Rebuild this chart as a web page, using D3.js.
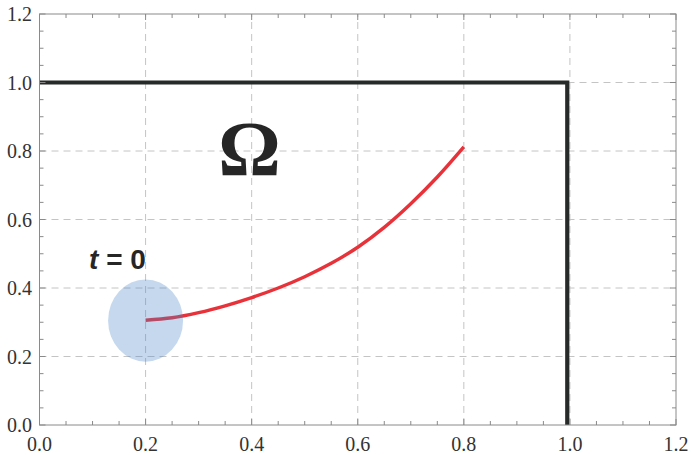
<!DOCTYPE html>
<html><head><meta charset="utf-8">
<script src="https://cdn.jsdelivr.net/npm/d3@7"></script>
<style>html,body{margin:0;padding:0;background:#fff;}</style>
</head><body>
<svg id="chart" width="691" height="455"></svg>
<script>
// ---- data ----
const xTicks = [0.0, 0.2, 0.4, 0.6, 0.8, 1.0, 1.2];
const yTicks = [0.0, 0.2, 0.4, 0.6, 0.8, 1.0, 1.2];
const xTickLabels = ["0.0", "0.2", "0.4", "0.6", "0.8", "1.0", "1.2"];
const yTickLabels = ["0.0", "0.2", "0.4", "0.6", "0.8", "1.0", "1.2"];
const curveX = [0.2, 0.25, 0.3, 0.35, 0.4, 0.45, 0.5, 0.55, 0.6, 0.65, 0.7, 0.75, 0.8];
const curveY = [0.306, 0.313, 0.328, 0.348, 0.372, 0.400, 0.433, 0.472, 0.519, 0.577, 0.646, 0.724, 0.812];
const boundaryX = [0.0, 0.995, 0.995];
const boundaryY = [1.0, 1.0, 0.0];
const blobCenter = [0.2, 0.305];
const blobRadius = [0.0707, 0.12];
const labelOmega = {text: "Ω", x: 0.396, y: 0.73};
const labelT = {x: 0.147, y: 0.456};

// ---- layout ----
const svg = d3.select("#chart");
const L = 39.5, R = 676, T = 14, B = 425;
const x = d3.scaleLinear().domain([0, 1.2]).range([L, R]);
const y = d3.scaleLinear().domain([0, 1.2]).range([B, T]);

// gridlines
const g = svg.append("g");
const gridX = xTicks.filter(v => v > 0 && v < 1.2);
const gridY = yTicks.filter(v => v > 0 && v < 1.2);
g.selectAll(".gx").data(gridX).join("line")
  .attr("x1", d => x(d)).attr("x2", d => x(d)).attr("y1", B).attr("y2", T)
  .attr("stroke", "#c4c4c4").attr("stroke-width", 1).attr("stroke-dasharray", "7,5");
g.selectAll(".gy").data(gridY).join("line")
  .attr("y1", d => y(d)).attr("y2", d => y(d)).attr("x1", L).attr("x2", R)
  .attr("stroke", "#c4c4c4").attr("stroke-width", 1).attr("stroke-dasharray", "7,5");

// curve
const line = d3.line().x(d => x(d[0])).y(d => y(d[1])).curve(d3.curveCatmullRom);
svg.append("path").datum(curveX.map((v, i) => [v, curveY[i]]))
  .attr("d", line).attr("fill", "none").attr("stroke", "#e8323a").attr("stroke-width", 3.4);

// blob
svg.append("ellipse")
  .attr("cx", x(blobCenter[0])).attr("cy", y(blobCenter[1]))
  .attr("rx", x(blobRadius[0]) - x(0)).attr("ry", y(0) - y(blobRadius[1]))
  .attr("fill", "#4a86c8").attr("fill-opacity", 0.32);

// boundary
const bline = d3.line().x(d => x(d[0])).y(d => y(d[1]));
svg.append("path").datum(boundaryX.map((v, i) => [v, boundaryY[i]]))
  .attr("d", bline).attr("fill", "none").attr("stroke", "#262a28").attr("stroke-width", 4.2)
  .attr("stroke-linejoin", "miter");

// frame
svg.append("rect").attr("x", L).attr("y", T).attr("width", R - L).attr("height", B - T)
  .attr("fill", "none").attr("stroke", "#8a8a8a").attr("stroke-width", 1);

// ticks on all sides
const minor = d3.range(0, 1.2001, 0.05).map(v => +v.toFixed(2));
const tg = svg.append("g").attr("stroke", "#8a8a8a").attr("stroke-width", 1);
minor.forEach(v => {
  const major = Math.abs(v * 5 - Math.round(v * 5)) < 1e-6;
  const len = major ? 6 : 4;
  tg.append("line").attr("x1", x(v)).attr("x2", x(v)).attr("y1", B).attr("y2", B - len);
  tg.append("line").attr("x1", x(v)).attr("x2", x(v)).attr("y1", T).attr("y2", T + len);
  tg.append("line").attr("y1", y(v)).attr("y2", y(v)).attr("x1", L).attr("x2", L + len);
  tg.append("line").attr("y1", y(v)).attr("y2", y(v)).attr("x1", R).attr("x2", R - len);
});

// tick labels
const font = "Liberation Serif";
svg.selectAll(".xl").data(xTicks).join("text")
  .attr("x", d => x(d)).attr("y", 451).attr("text-anchor", "middle")
  .style("font-family", font).style("font-size", "20px").attr("fill", "#333")
  .text((d, i) => xTickLabels[i]);
svg.selectAll(".yl").data(yTicks).join("text")
  .attr("x", 32).attr("y", d => y(d) + 7).attr("text-anchor", "end")
  .style("font-family", font).style("font-size", "20px").attr("fill", "#333")
  .text((d, i) => yTickLabels[i]);

// annotations
svg.append("text").attr("x", x(labelOmega.x)).attr("y", y(labelOmega.y))
  .attr("text-anchor", "middle").style("font-family", font).style("font-weight", "bold")
  .style("font-size", "78px").attr("fill", "#262626").text(labelOmega.text);

const tt = svg.append("text").attr("x", x(labelT.x)).attr("y", y(labelT.y))
  .attr("text-anchor", "middle").style("font-family", "Liberation Sans")
  .style("font-weight", "bold").style("font-size", "28px").attr("fill", "#262626");
tt.append("tspan").style("font-style", "italic").text("t");
tt.append("tspan").text(" = 0");
</script>
</body></html>
